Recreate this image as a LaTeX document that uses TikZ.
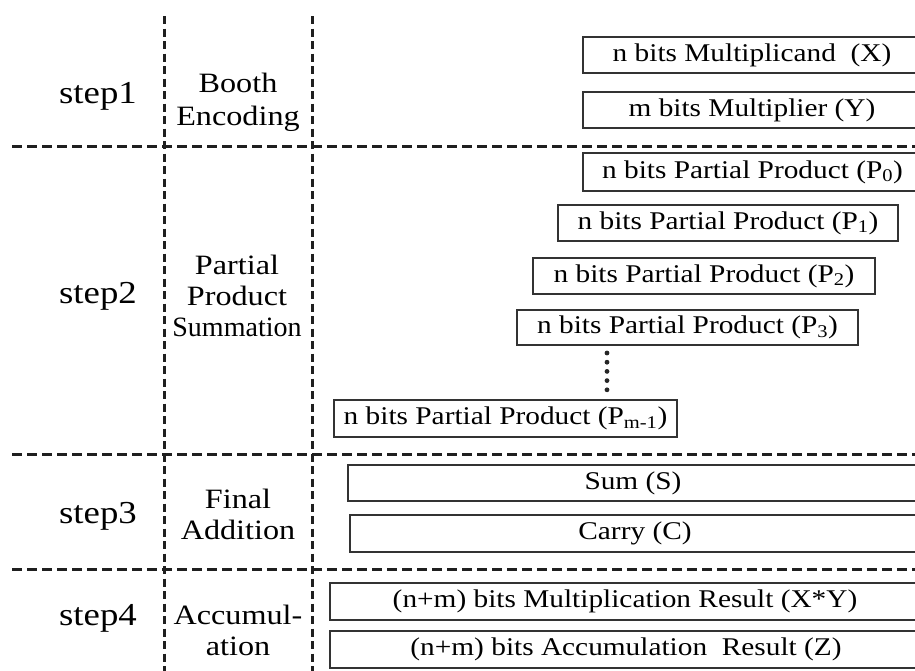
\documentclass[tikz,border=0pt]{standalone}
\usepackage{fontspec}
\usepackage{graphicx}
\setmainfont[FakeStretch=1.15]{Liberation Serif}
\usetikzlibrary{calc}
\tikzstyle{sep}=[line width=3pt, dash pattern=on 10pt off 5pt, black!88]
\tikzstyle{vsep}=[line width=3pt, dash pattern=on 8pt off 4.5pt, black!88]
\tikzstyle{word}=[draw, line width=1.5pt, black!80, text=black, inner sep=0pt, font=\fontsize{25.5}{30}\selectfont]
\tikzstyle{steplabel}=[anchor=base, font=\fontsize{32}{36}\selectfont]
\tikzstyle{phase}=[align=center, font=\fontsize{28}{31}\selectfont]
% one register drawn from its two corners
\newcommand{\drawword}[6]{
\pgfmathsetmacro{\bw}{#4-#2}
\pgfmathsetmacro{\bh}{#5-#3}
\node[word, minimum width=\bw pt, minimum height=\bh pt] (#1) at ({(#2+#4)/2},{(#3+#5)/2}) {#6};
}

\begin{document}
\begin{tikzpicture}[x=1pt,y=-1pt]
  \useasboundingbox (0,0) rectangle (915,670);
  % dashed grid
  \foreach \y in {146,454,569} {
    \draw[sep] (12,\y) -- (918,\y);
  }
  \foreach \x in {164,312} {
    \draw[vsep] (\x,16) -- (\x,672);
  }
  % step column
  \node[steplabel] (s1) at (98,103) {step1};
  \node[steplabel] (s2) at (98,303) {step2};
  \node[steplabel] (s3) at (98,523) {step3};
  \node[steplabel] (s4) at (98,625) {step4};
  % phase column
  \node[phase] (booth) at (238,102) {Booth\\[2pt]Encoding};
  \node[phase] (ppsum) at (237,296) {Partial\\Product\\\scalebox{0.87}[1]{Summation}};
  \node[phase] (final) at (238,514) {Final\\Addition};
  \node[phase] (accu)  at (238,630) {Accumul-\\ation};
  % operands
  \drawword{x}{583}{37}{921}{73}{n bits Multiplicand~ (X)}
  \drawword{y}{583}{92}{921}{128}{m bits Multiplier (Y)}
  % partial products
  \drawword{p0}{583}{153}{922}{191}{n bits Partial Product (P\textsubscript{0})}
  \drawword{p1}{558}{205}{898}{241}{n bits Partial Product (P\textsubscript{1})}
  \drawword{p2}{533}{258}{875}{294}{n bits Partial Product (P\textsubscript{2})}
  \drawword{p3}{517}{310}{858}{345}{n bits Partial Product (P\textsubscript{3})}
  \foreach \k in {0,...,4} {
    \fill[black!85] (607,353+9.2*\k) circle (2.4);
  }
  \drawword{pm}{334}{400}{677}{437}{n bits Partial Product (P\textsubscript{m-1})}
  % final addition
  \drawword{sum}{348}{465}{918}{501}{Sum (S)}
  \drawword{carry}{350}{515}{920}{552}{Carry (C)}
  % accumulation
  \drawword{mul}{330}{583}{920}{620}{(n+m) bits Multiplication Result (X*Y)}
  \drawword{acc}{330}{631}{922}{668}{(n+m) bits Accumulation~ Result (Z)}
\end{tikzpicture}
\end{document}
